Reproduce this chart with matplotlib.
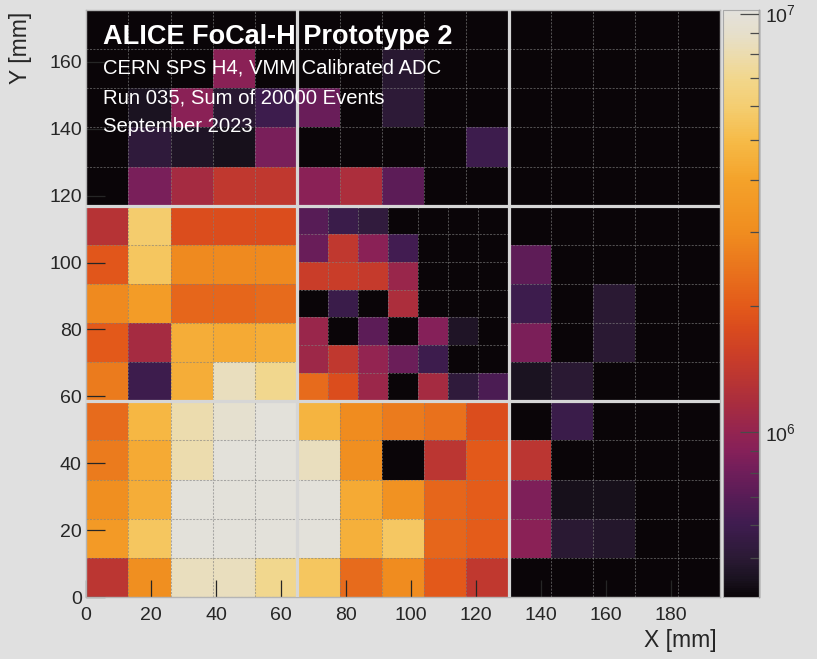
import matplotlib as mpl

mpl.use("Agg")

import matplotlib.pyplot as plt
import numpy as np
from matplotlib.colors import LinearSegmentedColormap, LogNorm
from matplotlib.ticker import LogLocator, NullFormatter

plt.rcParams["font.family"] = ["Liberation Sans", "DejaVu Sans"]
plt.rcParams["mathtext.default"] = "regular"

BG = "#e0e0e0"
INK = "#262626"
GRID = "#808080"
GAP = "#d6d6d6"

W, H = 817, 659
MODULE_W = 65.0
MODULE_H = 58.5
VMIN, VMAX = 4.04e5, 1.02e7

# summed calibrated ADC per channel, in units of 1e5; rows listed top -> bottom
TOP_LEFT = [
    [4.0, 4.0, 4.0, 4.0, 4.0],
    [4.0, 4.0, 4.0, 9.3, 4.0],
    [4.0, 4.5, 9.3, 4.9, 5.9],
    [4.0, 5.2, 4.6, 4.4, 8.5],
    [4.0, 8.5, 11.5, 14.0, 14.0],
]
TOP_MID = [
    [4.0, 4.0, 4.0, 4.0, 4.0],
    [4.0, 4.0, 4.9, 4.0, 4.0],
    [7.7, 4.0, 5.1, 4.0, 4.0],
    [4.0, 4.0, 4.0, 4.0, 5.9],
    [9.3, 12.0, 7.2, 4.0, 4.0],
]
TOP_RIGHT = [
    [4.0, 4.0, 4.0, 4.0, 4.0],
    [4.0, 4.0, 4.0, 4.0, 4.0],
    [4.0, 4.0, 4.0, 4.0, 4.0],
    [4.0, 4.0, 4.0, 4.0, 4.0],
    [4.0, 4.0, 4.0, 4.0, 4.0],
]
MID_LEFT = [
    [13.0, 59.0, 18.0, 18.0, 18.0],
    [19.5, 55.0, 29.5, 29.5, 29.5],
    [29.5, 37.0, 22.0, 22.0, 23.0],
    [20.0, 11.5, 44.0, 43.0, 44.0],
    [26.0, 5.9, 44.0, 85.0, 70.0],
]
# centre module has the finer 7x7 segmentation
MID_CENTRE = [
    [7.0, 5.8, 5.3, 4.0, 4.0, 4.0, 4.0],
    [7.7, 14.0, 9.3, 6.2, 4.0, 4.0, 4.0],
    [15.0, 15.0, 14.5, 10.5, 4.0, 4.0, 4.0],
    [4.0, 5.8, 4.0, 12.0, 4.0, 4.0, 4.0],
    [10.5, 4.0, 7.2, 4.0, 9.0, 4.6, 4.0],
    [10.8, 14.0, 10.0, 7.8, 5.9, 4.0, 4.0],
    [23.0, 18.0, 10.6, 4.0, 11.5, 5.2, 6.5],
]
MID_RIGHT = [
    [4.0, 4.0, 4.0, 4.0, 4.0],
    [7.3, 4.0, 4.0, 4.0, 4.0],
    [5.9, 4.0, 5.0, 4.0, 4.0],
    [8.6, 4.0, 5.0, 4.0, 4.0],
    [4.5, 5.0, 4.0, 4.0, 4.0],
]
BOT_LEFT = [
    [23.0, 48.0, 80.0, 93.0, 100.0],
    [26.0, 43.0, 80.0, 100.0, 100.0],
    [31.0, 44.0, 100.0, 100.0, 100.0],
    [36.0, 55.0, 100.0, 100.0, 100.0],
    [13.5, 31.0, 85.0, 85.0, 70.0],
]
BOT_MID = [
    [47.0, 30.0, 26.0, 24.0, 18.0],
    [85.0, 31.0, 4.0, 13.5, 20.0],
    [100.0, 43.0, 32.0, 22.0, 20.5],
    [100.0, 45.0, 56.0, 22.0, 20.5],
    [55.0, 23.0, 30.0, 20.0, 14.0],
]
BOT_RIGHT = [
    [4.0, 5.8, 4.0, 4.0, 4.0],
    [13.5, 4.0, 4.0, 4.0, 4.0],
    [8.7, 4.4, 4.4, 4.0, 4.0],
    [9.3, 5.0, 4.8, 4.0, 4.0],
    [4.0, 4.0, 4.0, 4.0, 4.0],
]

X_TICKS = [0, 20, 40, 60, 80, 100, 120, 140, 160, 180]
Y_TICKS = [0, 20, 40, 60, 80, 100, 120, 140, 160]

TITLE = "ALICE FoCal-H Prototype 2"
INFO_LINES = [
    "CERN SPS H4, VMM Calibrated ADC",
    "Run 035, Sum of 20000 Events",
    "September 2023",
]

# palette sampled from the reference colour bar (position, colour)
CMAP = LinearSegmentedColormap.from_list(
    "focal",
    [
        (0.000, "#0a0508"),
        (0.029, "#1a1220"),
        (0.066, "#2b1a35"),
        (0.123, "#3f1c50"),
        (0.170, "#581c56"),
        (0.213, "#701e5a"),
        (0.249, "#862059"),
        (0.281, "#942450"),
        (0.336, "#ab2e3c"),
        (0.404, "#c83c2a"),
        (0.455, "#d94a1e"),
        (0.496, "#e35a1a"),
        (0.622, "#f08d1f"),
        (0.710, "#f4a22a"),
        (0.779, "#f6bb48"),
        (0.835, "#f4cd70"),
        (0.882, "#f2d68a"),
        (0.925, "#ecdcae"),
        (0.961, "#e6dfca"),
        (1.000, "#e3e1dc"),
    ],
)


def fx(px):
    return px / W


def fy(px):
    return 1 - px / H


def main():
    fig = plt.figure(figsize=(W / 100, H / 100), dpi=100, facecolor=BG)
    ax = fig.add_axes([fx(86), fy(597), fx(720) - fx(86), fy(10) - fy(597)])
    cax = fig.add_axes([fx(723), fy(597), fx(759) - fx(723), fy(10) - fy(597)])
    ax.set_facecolor("#0a070d")

    norm = LogNorm(vmin=VMIN, vmax=VMAX)
    modules = [
        (0, 2, TOP_LEFT), (1, 2, TOP_MID), (2, 2, TOP_RIGHT),
        (0, 1, MID_LEFT), (1, 1, MID_CENTRE), (2, 1, MID_RIGHT),
        (0, 0, BOT_LEFT), (1, 0, BOT_MID), (2, 0, BOT_RIGHT),
    ]
    dash = (0, (2.0, 1.3))
    mesh = None
    for col, row, values in modules:
        vals = np.flipud(np.asarray(values)) * 1e5
        n = vals.shape[0]
        x0, y0 = col * MODULE_W, row * MODULE_H
        xe = np.linspace(x0, x0 + MODULE_W, n + 1)
        ye = np.linspace(y0, y0 + MODULE_H, n + 1)
        mesh = ax.pcolormesh(xe, ye, vals, cmap=CMAP, norm=norm, shading="flat", zorder=1)
        ax.vlines(xe, y0, y0 + MODULE_H, colors=GRID, alpha=0.6, linestyles=dash,
                  linewidth=0.75, zorder=2)
        ax.hlines(ye, x0, x0 + MODULE_W, colors=GRID, alpha=0.6, linestyles=dash,
                  linewidth=0.75, zorder=2)

    for x in (MODULE_W, 2 * MODULE_W):
        ax.axvline(x, color=GAP, linewidth=2.3, zorder=3)
    for y in (MODULE_H, 2 * MODULE_H):
        ax.axhline(y, color=GAP, linewidth=2.3, zorder=3)

    ax.set_xlim(0, 3 * MODULE_W)
    ax.set_ylim(0, 3 * MODULE_H)
    ax.set_xticks(X_TICKS)
    ax.set_yticks(Y_TICKS)
    ax.tick_params(direction="in", color=INK, width=0.9, labelsize=14, labelcolor=INK)
    ax.tick_params(axis="x", length=12.2, pad=7)
    ax.tick_params(axis="y", length=13.7, pad=3)
    for spine in ax.spines.values():
        spine.set_color("#b5b5b5")
        spine.set_linewidth(1.0)

    cbar = fig.colorbar(mesh, cax=cax)
    cbar.set_ticks([1e6, 1e7])
    cax.yaxis.set_minor_locator(LogLocator(base=10, subs=np.arange(2, 10)))
    cax.yaxis.set_minor_formatter(NullFormatter())
    cax.tick_params(which="both", direction="in", color="#4a4a4a", width=0.9,
                    labelsize=14, labelcolor=INK, pad=4)
    cax.tick_params(which="major", length=13.7)
    cax.tick_params(which="minor", length=6.5)
    cbar.outline.set_edgecolor("#a8a8a8")
    cbar.outline.set_linewidth(0.8)
    cax.axvline(1, color="#4a4a4a", linewidth=1.0, clip_on=False)

    fig.text(fx(102.7), fy(44), TITLE, color="white", fontsize=19.5,
             fontweight="bold", va="baseline")
    for i, line in enumerate(INFO_LINES):
        fig.text(fx(102.7), fy(74 + 29 * i), line, color="white", fontsize=14.6,
                 va="baseline")

    fig.text(fx(21), fy(12), "Y [mm]", rotation=90, ha="center", va="top",
             fontsize=16.5, color=INK)
    fig.text(fx(717), fy(647), "X [mm]", ha="right", va="baseline",
             fontsize=16.5, color=INK)

    fig.savefig("out.png", dpi=100, facecolor=BG)
    plt.close(fig)


if __name__ == "__main__":
    main()
